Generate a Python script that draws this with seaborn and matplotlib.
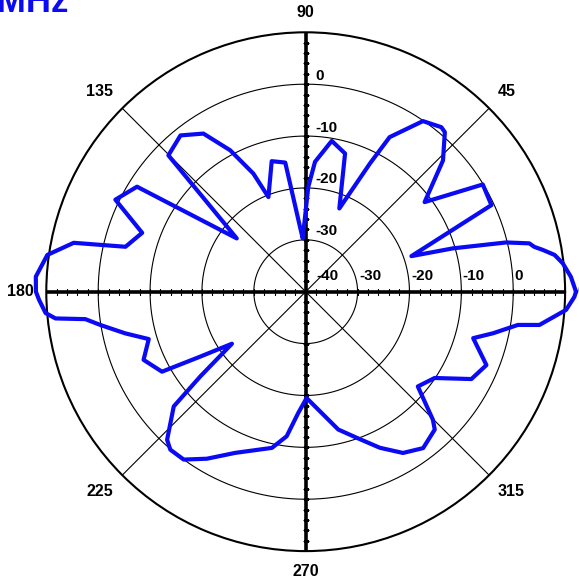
import numpy as np
import pandas as pd
import matplotlib
matplotlib.use("Agg")
import matplotlib.pyplot as plt
import seaborn as sns

# ---------------- data ----------------
angle_deg = [0, 3.2, 6.3, 8.4, 10.0, 11.1, 12.2, 13.8, 16.4, 18.6, 25.0, 31.2, 37.0,
             43.7, 48.9, 50.5, 55.5, 61.5, 63.4, 68.0, 74.1, 80.2, 85.9, 88.6, 93.2,
             95.0, 99.0, 104.6, 111.5, 113.9, 118.1, 122.9, 128.7, 135.2, 142.3, 148.1,
             154.2, 160.2, 166.0, 168.1, 171.9, 176.8, 180.0, 181.8, 184.7, 186.1, 187.1,
             189.2, 193.0, 196.8, 202.8, 209.1, 211.6, 215.2, 218.8, 221.0, 226.9, 229.4,
             234.0, 239.4, 246.4, 257.8, 262.5, 266.5, 270.5, 283.3, 289.2, 295.4, 301.1,
             306.9, 313.1, 314.8, 319.8, 326.2, 332.2, 337.9, 344.5, 347.5, 351.1, 351.9,
             356.0, 358.9, 360.0]
gain_db = [12.1, 11.2, 9.85, 8.5, 6.4, 4.9, 4.1, -0.2, -10.4, -18.5, -0.5, -0.1, -11.3,
           -3.4, 0.8, 1.1, -0.1, -6.1, -12.4, -22.7, -12.3, -10.5, -14.9, -19.8, -29.7,
           -27.5, -14.8, -14.0, -20.4, -15.1, -9.1, -3.7, -1.4, -2.7, -23.2, -1.7,
           0.75, -6.5, -4.2, 5.7, 10.3, 12.1, 12.0, 11.4, 10.3, 8.5, 2.8,
           0.1, -4.3, -8.4, -6.1, -8.3, -16.1, -22.6, -13.9, -6.3, -0.9, 0.1,
           0.0, -2.6, -6.1, -9.2, -11.9, -16.6, -19.5, -12.7, -10.2, -6.7, -3.7,
           -2.3, -3.6, -5.2, -11.7, -10.1, -3.9, -2.4, -6.5, -3.0, 1.4, 5.5,
           10.3, 11.8, 12.1]

r_min, r_max = -40, 10
ring_values = [-30, -20, -10, 0]
h_labels = [-40, -30, -20, -10, 0]
v_labels = [0, -10, -20, -30]
theta_labels = [0, 45, 90, 135, 180, 225, 270, 315]
title_text = "1800 MHz"

LINE_BLUE = "#0a0af5"

# ---------------- style ----------------
sns.set_style("white")
plt.rcParams["font.family"] = ["Liberation Sans", "DejaVu Sans"]
plt.rcParams["font.weight"] = "bold"

W, H = 579, 581
fig = plt.figure(figsize=(W / 100, H / 100), dpi=100)
cx, cy, R = 305.7, 291.7, 259.4
ax = fig.add_axes([(cx - R) / W, (H - cy - R) / H, 2 * R / W, 2 * R / H],
                  projection="polar")
ax.set_facecolor("white")
ax.grid(False)

# rings
th_full = np.linspace(0, 2 * np.pi, 721)
for rv in ring_values:
    ax.plot(th_full, np.full_like(th_full, rv), color="black", lw=0.8, zorder=1)

# diagonal thin spokes
for a in [45, 135, 225, 315]:
    t = np.deg2rad(a)
    ax.plot([t, t], [r_min, r_max], color="black", lw=0.8, zorder=1)

# thick main axes with small ticks every 2 dB
tick_r = np.arange(-38, 10, 2)
for a in [0, 90, 180, 270]:
    t = np.deg2rad(a)
    ax.plot([t, t], [r_min, r_max], color="black", lw=2.6, zorder=2,
            solid_capstyle="butt")
    mk = "|" if a in (0, 180) else "_"
    ax.plot(np.full_like(tick_r, t, dtype=float), tick_r, ls="none", marker=mk,
            ms=4.5, mew=0.8, color="black", zorder=2)

# data line
df = pd.DataFrame({"theta": np.deg2rad(angle_deg), "gain": gain_db})
sns.lineplot(data=df, x="theta", y="gain", sort=False, estimator=None, ax=ax,
             color=LINE_BLUE, lw=3.0, zorder=5)
for ln in ax.lines[-1:]:
    ln.set_clip_on(False)
    ln.set_solid_joinstyle("round")
ax.set_xlabel("")
ax.set_ylabel("")

ax.set_ylim(r_min, r_max)
ax.set_yticks([])
ax.set_xticks(np.deg2rad(np.arange(0, 360, 5)))
ax.set_xticklabels([])
ax.tick_params(axis="x", direction="in", length=4, width=0.8, color="black")
ax.spines["polar"].set_linewidth(1.5)
ax.spines["polar"].set_color("black")

# theta labels
r_lab = r_min + 272 / (R / (r_max - r_min))
for a in theta_labels:
    t = np.deg2rad(a)
    c, s = np.cos(t), np.sin(t)
    ha = "left" if c > 0.1 else ("right" if c < -0.1 else "center")
    va = "bottom" if s > 0.1 else ("top" if s < -0.1 else "center")
    ax.text(t, r_lab, str(a), ha=ha, va=va, fontsize=11.5, fontweight="bold",
            color="black", clip_on=False)

# radial labels on horizontal axis
for v in h_labels:
    dx = 11 if v == r_min else 1.5
    ax.annotate(str(v), xy=(0, v), xytext=(dx, 12), textcoords="offset pixels",
                ha="left", va="baseline", fontsize=11, fontweight="bold",
                color="black", annotation_clip=False)
# radial labels on vertical axis
for v in v_labels:
    ax.annotate(str(v), xy=(np.pi / 2, v), xytext=(9.5, 4.5),
                textcoords="offset pixels", ha="left", va="baseline",
                fontsize=11, fontweight="bold", color="black",
                annotation_clip=False)

# title (partially off-canvas as in the reference)
fig.text(68 / W, 1 - 12.5 / H, title_text, ha="right", va="baseline",
         fontsize=25, fontweight="bold", color=LINE_BLUE)

fig.savefig("out.png", dpi=100)
